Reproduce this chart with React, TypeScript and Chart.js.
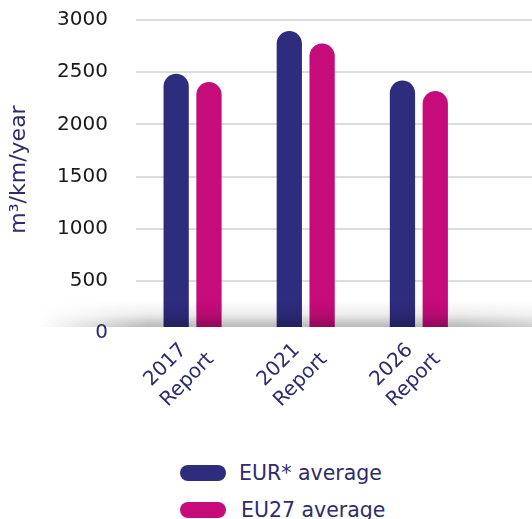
import React, { useEffect, useRef } from 'react';
import { Chart, registerables } from 'chart.js';

Chart.register(...registerables);

// ---- data ----
const categories = ['2017 Report', '2021 Report', '2026 Report'];
const xTickLabels: string[][] = [
  ['2017  ', 'Report'],
  ['2021  ', 'Report'],
  ['2026  ', 'Report'],
];
const eurAverage = [2485, 2895, 2420];
const eu27Average = [2405, 2775, 2320];
const seriesNames = ['EUR* average', 'EU27 average'];
const yTicks = [0, 500, 1000, 1500, 2000, 2500, 3000];
const yAxisTitle = '  m³/km/year';

// ---- styles ----
const NAVY = '#2E2C7D';
const MAGENTA = '#C60C7B';
const TEXT_NAVY = '#2E2C6B';
const FONT = 'DejaVu Sans';
const seriesColors = [NAVY, MAGENTA];

const floorShadow = {
  id: 'floorShadow',
  afterDatasetsDraw(chart: any) {
    const { ctx, chartArea, scales } = chart;
    const base = scales.y.getPixelForValue(0);
    const floorY = base - 6;
    const h = 26;
    const x0 = 40;
    const x1 = chart.width;
    const off = document.createElement('canvas');
    off.width = x1 - x0;
    off.height = h;
    const o = off.getContext('2d')!;
    const vg = o.createLinearGradient(0, 0, 0, h);
    vg.addColorStop(0, 'rgba(0,0,0,0)');
    vg.addColorStop(0.5, 'rgba(0,0,0,0.07)');
    vg.addColorStop(1, 'rgba(0,0,0,0.28)');
    o.fillStyle = vg;
    o.fillRect(0, 0, off.width, h);
    o.globalCompositeOperation = 'destination-in';
    const hg = o.createLinearGradient(0, 0, off.width, 0);
    hg.addColorStop(0, 'rgba(0,0,0,0)');
    hg.addColorStop(0.22, 'rgba(0,0,0,1)');
    hg.addColorStop(0.85, 'rgba(0,0,0,1)');
    hg.addColorStop(1, 'rgba(0,0,0,0.7)');
    o.fillStyle = hg;
    o.fillRect(0, 0, off.width, h);

    ctx.save();
    ctx.fillStyle = '#ffffff';
    ctx.fillRect(chartArea.left, floorY, chartArea.right - chartArea.left, base - floorY + 2);
    ctx.drawImage(off, x0, floorY - h);
    ctx.restore();
  },
};

export default function App() {
  const canvasRef = useRef<HTMLCanvasElement | null>(null);

  useEffect(() => {
    const canvas = canvasRef.current;
    if (!canvas) return;
    const datasets = [eurAverage, eu27Average].map((vals, si) => ({
      label: seriesNames[si],
      data: vals.map((v, i) => ({ x: i, y: v })),
      backgroundColor: seriesColors[si],
      borderWidth: 0,
      borderRadius: { topLeft: 13, topRight: 13, bottomLeft: 0, bottomRight: 0 },
      borderSkipped: false,
      categoryPercentage: 0.58,
      barPercentage: 0.77,
    }));

    const chart = new Chart(canvas, {
      type: 'bar',
      data: { datasets } as any,
      plugins: [floorShadow],
      options: {
        animation: false,
        responsive: false,
        devicePixelRatio: 1,
        events: [],
        layout: { padding: { top: 20, right: 0, bottom: 0, left: 0 } },
        plugins: {
          legend: { display: false },
          tooltip: { enabled: false },
        },
        scales: {
          x: {
            type: 'linear',
            min: -0.5,
            max: 3.0,
            offset: false,
            grid: { display: false, drawTicks: false },
            border: { display: false },
            afterBuildTicks: (s: any) => {
              s.ticks = categories.map((_, i) => ({ value: i }));
            },
            afterFit: (s: any) => {
              s.height = 117;
            },
            ticks: {
              autoSkip: false,
              minRotation: 45,
              maxRotation: 45,
              padding: -4,
              color: TEXT_NAVY,
              font: { family: FONT, size: 20, lineHeight: 1.3 },
              callback: (v: any) => xTickLabels[v] ?? '',
            },
          },
          y: {
            min: 0,
            max: 3000,
            grid: {
              color: '#DCDCDC',
              lineWidth: 2,
              drawTicks: true,
              tickLength: 25,
              tickColor: 'rgba(0,0,0,0)',
            },
            border: { display: false },
            afterBuildTicks: (s: any) => {
              s.ticks = yTicks.map((v) => ({ value: v }));
            },
            afterFit: (s: any) => {
              s.width = 136;
            },
            ticks: {
              padding: 3,
              color: (c: any) => (c.tick && c.tick.value === 0 ? TEXT_NAVY : '#1A1A1A'),
              font: { family: FONT, size: 20 },
              callback: (v: any) => String(v),
            },
            title: {
              display: true,
              text: yAxisTitle,
              color: TEXT_NAVY,
              font: { family: FONT, size: 22 },
              padding: { top: 6, bottom: 0 },
            },
          },
        },
      } as any,
    });
    return () => chart.destroy();
  }, []);

  const legendRow = (i: number, top: number, gap: number) => (
    <div
      key={i}
      style={{
        position: 'absolute',
        left: 180,
        top,
        height: 20,
        display: 'flex',
        alignItems: 'center',
      }}
    >
      <span
        style={{
          display: 'inline-block',
          width: 46,
          height: 16,
          borderRadius: 8,
          background: seriesColors[i],
        }}
      />
      <span
        style={{
          marginLeft: gap,
          fontFamily: FONT,
          fontSize: 20.5,
          lineHeight: '20px',
          color: TEXT_NAVY,
          whiteSpace: 'nowrap',
        }}
      >
        {seriesNames[i]}
      </span>
    </div>
  );

  return (
    <div
      style={{
        position: 'absolute',
        left: 0,
        top: 0,
        width: 532,
        height: 519,
        overflow: 'hidden',
        background: '#ffffff',
      }}
    >
      <canvas ref={canvasRef} width={532} height={450} style={{ display: 'block' }} />
      {legendRow(0, 463, 13)}
      {legendRow(1, 500, 15)}
    </div>
  );
}
